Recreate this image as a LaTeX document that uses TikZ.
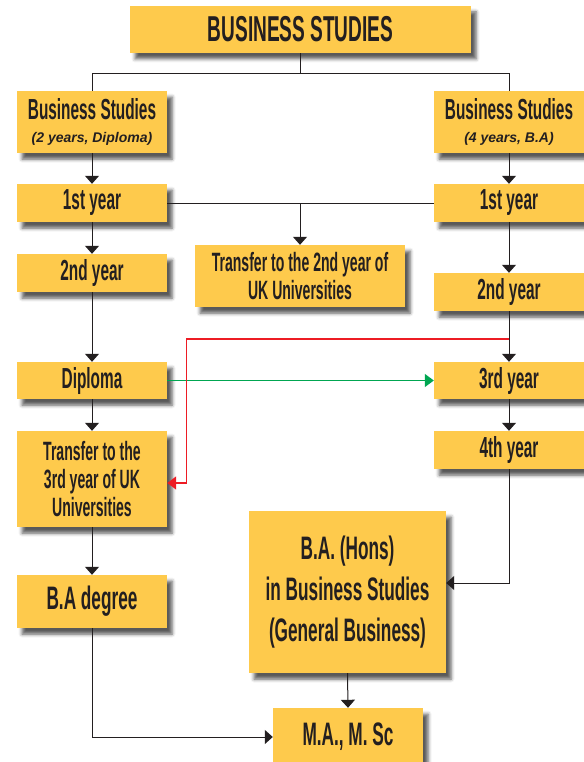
\documentclass[tikz,border=0pt]{standalone}
\usepackage{fontspec}
\usepackage{tikz}
\usetikzlibrary{calc}
\usetikzlibrary{arrows.meta}
\usetikzlibrary{shadows.blur}
\newfontfamily\condfont[FakeStretch=0.53]{Liberation Sans}
\newfontfamily\subfont{Liberation Sans}
\definecolor{boxyellow}{RGB}{254,202,76}
\definecolor{linegray}{RGB}{35,31,32}
\definecolor{pathred}{RGB}{237,28,36}
\definecolor{pathgreen}{RGB}{0,166,81}

\tikzset{
  yearbox/.style={rectangle, fill=boxyellow, inner sep=0pt, align=center, text=linegray,
    font={\condfont\bfseries\fontsize{29}{32}\selectfont},
    blur shadow={shadow xshift=5pt, shadow yshift=-6pt, shadow blur radius=3.5pt, shadow opacity=65}},
  link/.style={line width=1pt, draw=linegray},
  flow/.style={link, -{Triangle[width=14pt,length=8pt]}},
  redflow/.style={line width=1.4pt, draw=pathred, -{Triangle[width=13pt,length=9pt]}, color=pathred},
  greenflow/.style={line width=1.4pt, draw=pathgreen, -{Triangle[width=13pt,length=9pt]}, color=pathgreen},
}
\newcommand{\subline}[1]{{\subfont\bfseries\itshape\fontsize{14}{15}\selectfont #1}}

\begin{document}
\begin{tikzpicture}[x=1pt,y=-1pt]
                \useasboundingbox (0,0) rectangle (583,762);

                % Marking box title
                \node[yearbox, minimum width=341pt, minimum height=47pt,
                  font={\condfont\bfseries\fontsize{36}{39}\selectfont}] (title) at (300.5,29.5) {BUSINESS STUDIES};%

                % Marking boxes of the 2 year course
                \node[yearbox, minimum width=150pt, minimum height=62pt] (bsl) at (92,122) {Business Studies\\[-9pt]\subline{(2 years, Diploma)}};%
                \node[yearbox, minimum width=150pt, minimum height=38pt] (yearonel) at (92,203) {1st year};%
                \node[yearbox, minimum width=150pt, minimum height=38pt] (yeartwol) at (92,273) {2nd year};%
                \node[yearbox, minimum width=150pt, minimum height=37pt] (dipl) at (92,380.5) {Diploma};%
                \node[yearbox, minimum width=150pt, minimum height=96pt,
                  font={\condfont\bfseries\fontsize{26.5}{28}\selectfont}] (transthree) at (92,479) {Transfer to the\\3rd year of UK\\Universities};%
                \node[yearbox, minimum width=150pt, minimum height=53pt,
                  font={\condfont\bfseries\fontsize{32.5}{35}\selectfont}] (badeg) at (92,601.5) {B.A degree};%

                % Marking boxes of the 4 year course
                \node[yearbox, minimum width=150pt, minimum height=62pt] (bsr) at (509,122) {Business Studies\\[-9pt]\subline{(4 years, B.A)}};%
                \node[yearbox, minimum width=150pt, minimum height=38pt] (yearoner) at (509,203) {1st year};%
                \node[yearbox, minimum width=150pt, minimum height=38pt] (yeartwor) at (509,292) {2nd year};%
                \node[yearbox, minimum width=150pt, minimum height=37pt] (yearthreer) at (509,380.5) {3rd year};%
                \node[yearbox, minimum width=150pt, minimum height=38pt] (yearfourr) at (509,450) {4th year};%
                \node[yearbox, minimum width=197pt, minimum height=162pt,
                  font={\condfont\bfseries\fontsize{32.5}{41}\selectfont}] (hons) at (347.5,592) {B.A. (Hons)\\in Business Studies\\(General Business)};%

                % Marking the middle boxes
                \node[yearbox, minimum width=210pt, minimum height=62pt,
                  font={\condfont\bfseries\fontsize{26.5}{28}\selectfont}] (transtwo) at (300,276) {Transfer to the 2nd year of\\UK Universities};%
                \node[yearbox, minimum width=150pt, minimum height=58pt,
                  font={\condfont\bfseries\fontsize{32.5}{35}\selectfont}] (master) at (348,737) {M.A., M. Sc};%

                % Drawing lines from the title
                \coordinate (split) at ($(title.south)+(0,20)$);
                \draw[link] (title.south) -- (split);%
                \draw[link] (bsl.north) |- (split) -| (bsr.north);%

                % Drawing left column
                \draw[flow] (bsl.south) -- (yearonel.north);%
                \draw[flow] (yearonel.south) -- (yeartwol.north);%
                \draw[flow] (yeartwol.south) -- (dipl.north);%
                \draw[flow] (dipl.south) -- (transthree.north);%
                \draw[flow] (transthree.south) -- (badeg.north);%
                \draw[flow] (badeg.south) |- (master.west);%

                % Drawing right column
                \draw[flow] (bsr.south) -- (yearoner.north);%
                \draw[flow] (yearoner.south) -- (yeartwor.north);%
                \draw[flow] (yeartwor.south) -- (yearthreer.north);%
                \draw[flow] (yearthreer.south) -- (yearfourr.north);%
                \draw[flow] (yearfourr.south) |- ([yshift=9pt]hons.east);%
                \draw[flow] (hons.south) -- (master.north);%

                % Drawing line 1st year to 1st year
                \draw[link] (yearonel.east) -- (yearoner.west);%
                \draw[flow] (yearonel.east -| transtwo.north) -- (transtwo.north);%

                % Drawing line Diploma to 3rd year
                \draw[greenflow] (dipl.east) -- (yearthreer.west);%

                % Drawing line 2nd year to transfer
                \coordinate (redstart) at ($(yeartwor.south)!0.55!(yearthreer.north)$);
                \draw[redflow] (redstart) -| ([xshift=19pt,yshift=-4pt]transthree.east) -- ([yshift=-4pt]transthree.east);%
\end{tikzpicture}
\end{document}
